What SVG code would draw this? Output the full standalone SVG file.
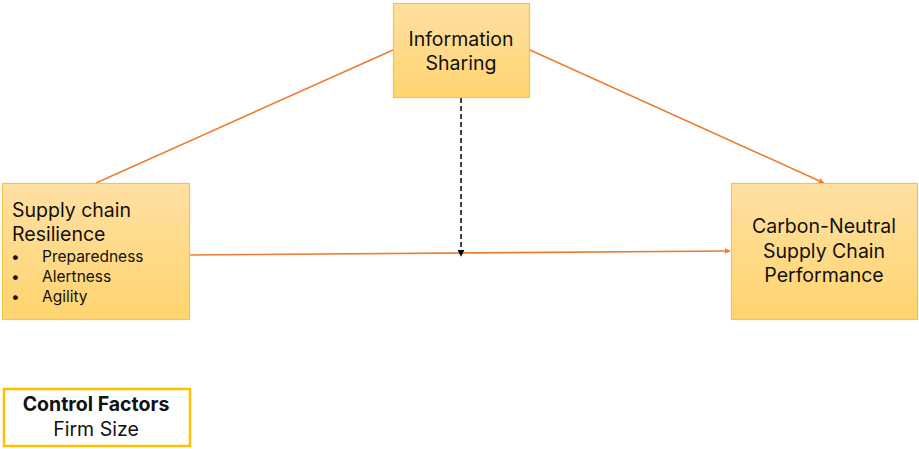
<svg xmlns="http://www.w3.org/2000/svg" width="919" height="449" viewBox="0 0 919 449">
  <defs>
    <linearGradient id="boxFill" x1="0" y1="0" x2="0" y2="1">
      <stop offset="0" stop-color="#FFE0A3"/>
      <stop offset="1" stop-color="#FFD46F"/>
    </linearGradient>
    <marker id="arrOrange" viewBox="0 0 10 10" refX="9" refY="5" markerWidth="6" markerHeight="6" orient="auto" markerUnits="userSpaceOnUse">
      <path d="M0,0 L10,5 L0,10 z" fill="#ED7D31"/>
    </marker>
    <marker id="arrBlack" viewBox="0 0 10 10" refX="9" refY="5" markerWidth="7" markerHeight="7" orient="auto" markerUnits="userSpaceOnUse">
      <path d="M0,0 L10,5 L0,10 z" fill="#000"/>
    </marker>
  </defs>
  <style>
    .box { fill: url(#boxFill); stroke: #F6C445; stroke-width: 1.2; }
    .lbl { font-family: Inter, "Open Sans", sans-serif; font-size: 19.5px; fill: #111; }
    .sub { font-family: Inter, "Open Sans", sans-serif; font-size: 15.5px; fill: #111; }
    .mid { text-anchor: middle; }
    .edge { stroke: #ED7D31; stroke-width: 1.6; fill: none; }
  </style>

  <rect width="919" height="449" fill="#fff"/>

  <g id="connectors">
    <line class="edge" x1="96" y1="183" x2="393" y2="50"/>
    <line class="edge" x1="530" y1="50" x2="824" y2="183" marker-end="url(#arrOrange)"/>
    <line class="edge" x1="190" y1="255" x2="730" y2="251" marker-end="url(#arrOrange)"/>
    <line x1="461" y1="98" x2="461" y2="256" stroke="#000" stroke-width="1.5" stroke-dasharray="5,3" marker-end="url(#arrBlack)"/>
  </g>

  <g id="information-sharing">
    <rect class="box" x="393.5" y="3.5" width="136" height="94"/>
    <text class="lbl mid" x="461" y="46">Information</text>
    <text class="lbl mid" x="461" y="70">Sharing</text>
  </g>

  <g id="supply-chain-resilience">
    <rect class="box" x="2.5" y="183.5" width="187" height="136"/>
    <text class="lbl" x="12" y="217">Supply chain</text>
    <text class="lbl" x="12" y="241">Resilience</text>
    <text class="sub" x="11" y="262">•</text>
    <text class="sub" x="42" y="262">Preparedness</text>
    <text class="sub" x="11" y="282">•</text>
    <text class="sub" x="42" y="282">Alertness</text>
    <text class="sub" x="11" y="302">•</text>
    <text class="sub" x="42" y="302">Agility</text>
  </g>

  <g id="carbon-neutral-performance">
    <rect class="box" x="731.5" y="183.5" width="186" height="136"/>
    <text class="lbl mid" x="824" y="233">Carbon-Neutral</text>
    <text class="lbl mid" x="824" y="258">Supply Chain</text>
    <text class="lbl mid" x="824" y="282">Performance</text>
  </g>

  <g id="control-factors">
    <rect x="4" y="389" width="186" height="57" fill="#fff" stroke="#FFC000" stroke-width="2.5"/>
    <text class="lbl mid" x="96" y="411" font-weight="bold" font-size="17.5">Control Factors</text>
    <text class="lbl mid" x="96" y="436" font-size="18.5">Firm Size</text>
  </g>
</svg>
